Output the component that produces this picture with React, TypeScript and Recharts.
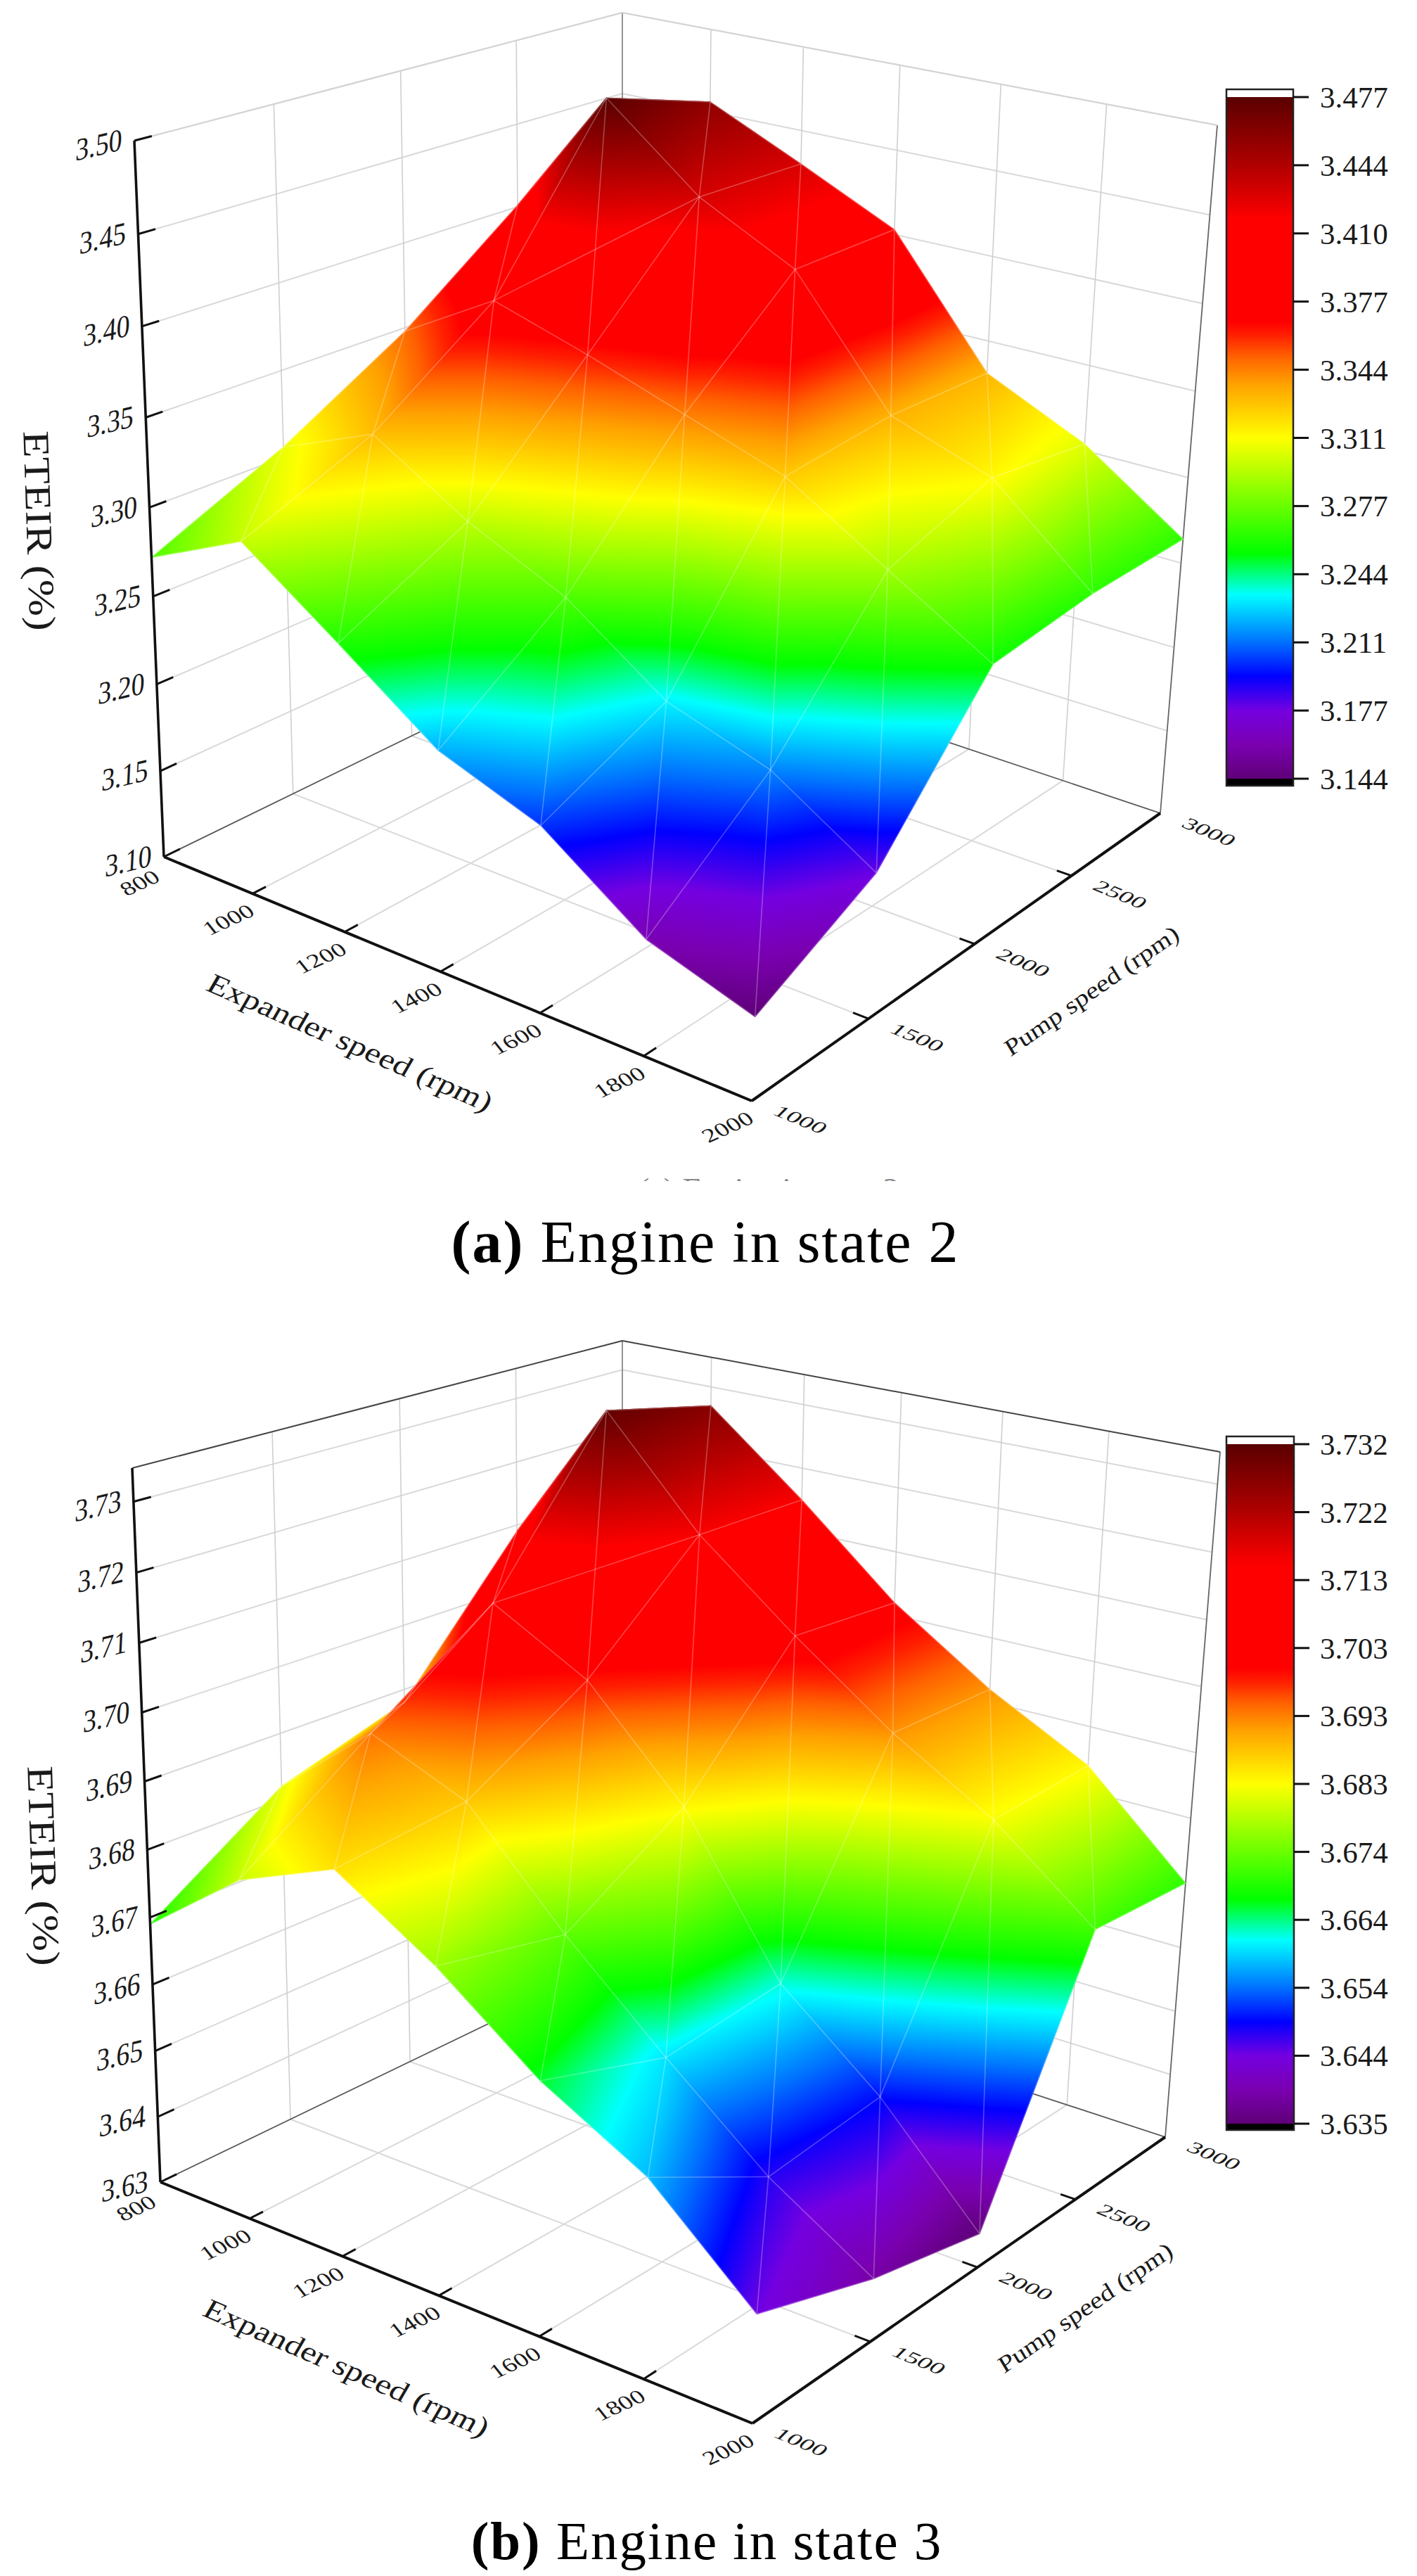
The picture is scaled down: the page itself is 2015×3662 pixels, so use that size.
import React from "react";
import { ScatterChart, Scatter, XAxis, YAxis } from "recharts";

const expanderSpeeds = [800, 1000, 1200, 1400, 1600, 1800, 2000];
const pumpSpeeds = [1000, 1500, 2000, 2500, 3000];

// one row per pump speed, one value per expander speed
const etirState2 = [
  [3.272, 3.298, 3.26, 3.221, 3.201, 3.162, 3.144],
  [3.306, 3.329, 3.296, 3.271, 3.232, 3.214, 3.179],
  [3.348, 3.38, 3.363, 3.344, 3.325, 3.29, 3.256],
  [3.401, 3.477, 3.431, 3.402, 3.332, 3.312, 3.263],
  [3.42, 3.456, 3.43, 3.403, 3.331, 3.304, 3.264],
];
const etirState3 = [
  [3.669, 3.68, 3.686, 3.677, 3.666, 3.658, 3.645],
  [3.682, 3.694, 3.688, 3.673, 3.66, 3.648, 3.639],
  [3.688, 3.707, 3.699, 3.684, 3.662, 3.65, 3.635],
  [3.709, 3.731, 3.715, 3.703, 3.692, 3.683, 3.671],
  [3.713, 3.727, 3.715, 3.702, 3.692, 3.684, 3.67],
];

const zTicksState2 = ["3.10", "3.15", "3.20", "3.25", "3.30", "3.35", "3.40", "3.45", "3.50"];
const zTicksState3 = ["3.63", "3.64", "3.65", "3.66", "3.67", "3.68", "3.69", "3.70", "3.71", "3.72", "3.73"];
const barTicksState2 = ["3.144", "3.177", "3.211", "3.244", "3.277", "3.311", "3.344", "3.377", "3.410", "3.444", "3.477"];
const barTicksState3 = ["3.635", "3.644", "3.654", "3.664", "3.674", "3.683", "3.693", "3.703", "3.713", "3.722", "3.732"];

// colour map of the surface and of the colour bar, 0 = lowest level, 1 = highest
const colorStops: [number, string][] = [
  [0, "#5f0078"],
  [0.05, "#7a00b0"],
  [0.1, "#7400e0"],
  [0.15, "#0000ff"],
  [0.2, "#0070ff"],
  [0.27, "#00ffff"],
  [0.33, "#00ff00"],
  [0.5, "#ffff00"],
  [0.58, "#ffa000"],
  [0.62, "#ff6000"],
  [0.65, "#ff2000"],
  [0.67, "#ff0000"],
  [0.82, "#ff0000"],
  [0.9, "#b00000"],
  [1, "#5a0000"],
];

const FONT = "'Liberation Serif', serif";

// page pixels of the plot box corners, order: (800,1000) (2000,1000) (2000,3000) (800,3000)
const panelState2 = {
  id: "s2",
  top: 0,
  height: 1700,
  etir: etirState2,
  zTicks: zTicksState2,
  barTicks: barTicksState2,
  zRange: [3.1, 3.5],
  floor: [[233, 1218], [1069, 1565], [1650, 1156], [885, 900]],
  roof: [[191, 200], [1114, 430], [1731, 178], [885, 18]],
  roofColor: "#d4d4d4",
  zTitle: [38, 755],
  pumpTitleShift: [0, 0],
  bar: { x: 1744, width: 95, outerTop: 127, tickTop: 138, tickBottom: 1107, outerBottom: 1117 },
};

const panelState3 = {
  id: "s3",
  top: 1860,
  height: 1700,
  etir: etirState3,
  zTicks: zTicksState3,
  barTicks: barTicksState3,
  zRange: [3.63, 3.7347],
  floor: [[228, 3102], [1070, 3445], [1657, 3038], [885, 2785]],
  roof: [[188, 2087], [1115, 2314], [1735, 2064], [885, 1906]],
  roofColor: "#444444",
  zTitle: [44, 2653],
  pumpTitleShift: [-16, -10],
  bar: { x: 1744, width: 96, outerTop: 2042, tickTop: 2053, tickBottom: 3019, outerBottom: 3028 },
};

type Pt = [number, number];

const homography = (q: number[][]) => {
  const [[x0, y0], [x1, y1], [x2, y2], [x3, y3]] = q;
  const dx1 = x1 - x2, dx2 = x3 - x2, sx = x0 - x1 + x2 - x3;
  const dy1 = y1 - y2, dy2 = y3 - y2, sy = y0 - y1 + y2 - y3;
  const den = dx1 * dy2 - dx2 * dy1;
  const g = (sx * dy2 - dx2 * sy) / den;
  const h = (dx1 * sy - sx * dy1) / den;
  const a = x1 - x0 + g * x1, b = x3 - x0 + h * x3;
  const d = y1 - y0 + g * y1, e = y3 - y0 + h * y3;
  return (u: number, v: number): Pt => {
    const w = g * u + h * v + 1;
    return [(a * u + b * v + x0) / w, (d * u + e * v + y0) / w];
  };
};

const buildPanel = (panel: typeof panelState2) => {
  const floorAt = homography(panel.floor);
  const roofAt = homography(panel.roof);
  const uOf = (rpm: number) => (rpm - 800) / 1200;
  const vOf = (rpm: number) => (rpm - 1000) / 2000;
  const [zMin, zMax] = panel.zRange;
  // height on screen grows a little towards the top of the box
  const lift = (w: number) => w / (1.05 - 0.05 * w);
  const project = (u: number, v: number, z: number): Pt => {
    const t = lift((z - zMin) / (zMax - zMin));
    const a = floorAt(u, v), b = roofAt(u, v);
    return [a[0] + (b[0] - a[0]) * t, a[1] + (b[1] - a[1]) * t];
  };
  const seg = (p: Pt, q: Pt, stroke: string, width: number) => ({
    x: p[0], y: p[1], dx: q[0] - p[0], dy: q[1] - p[1], stroke, width,
  });

  const levels = panel.barTicks.map(Number);
  const lo = levels[0], hi = levels[levels.length - 1];
  const node = (i: number, j: number) => {
    const z = panel.etir[j][i];
    const p = project(uOf(expanderSpeeds[i]), vOf(pumpSpeeds[j]), z);
    return { p, t: (z - lo) / (hi - lo) };
  };

  // surface, back cells first
  const triangles: any[] = [];
  const cells: [number, number][] = [];
  expanderSpeeds.slice(0, -1).forEach((_, i) => pumpSpeeds.slice(1).forEach((_, k) => cells.push([i, k + 1])));
  cells.sort((a, b) => a[0] - a[1] - (b[0] - b[1]));
  cells.forEach(([i, j]) => {
    [
      [node(i, j), node(i, j - 1), node(i + 1, j - 1)],
      [node(i, j), node(i + 1, j - 1), node(i + 1, j)],
    ].forEach((tri) => {
      const [a, b, c] = tri;
      const cx = (a.p[0] + b.p[0] + c.p[0]) / 3, cy = (a.p[1] + b.p[1] + c.p[1]) / 3;
      const x1 = b.p[0] - a.p[0], y1 = b.p[1] - a.p[1], t1 = b.t - a.t;
      const x2 = c.p[0] - a.p[0], y2 = c.p[1] - a.p[1], t2 = c.t - a.t;
      const det = x1 * y2 - x2 * y1;
      const gx = (t1 * y2 - t2 * y1) / det, gy = (x1 * t2 - x2 * t1) / det;
      const n = gx * gx + gy * gy || 1;
      triangles.push({
        x: cx, y: cy,
        id: `${panel.id}-${triangles.length}`,
        corners: tri.map((q) => [q.p[0] - cx, q.p[1] - cy]),
        from: [a.p[0] - cx - (a.t * gx) / n, a.p[1] - cy - (a.t * gy) / n],
        to: [a.p[0] - cx + ((1 - a.t) * gx) / n, a.p[1] - cy + ((1 - a.t) * gy) / n],
      });
    });
  });

  // mesh drawn over the surface, the hidden back corner is left out
  const mesh: any[] = [];
  const meshColor = "rgba(255,255,255,0.27)";
  expanderSpeeds.forEach((_, i) =>
    pumpSpeeds.forEach((_, j) => {
      if (i === 0 && j === 4) return;
      const here = node(i, j).p;
      if (i < 6) mesh.push(seg(here, node(i + 1, j).p, meshColor, 1.6));
      if (j < 4 && !(i === 0 && j === 3)) mesh.push(seg(here, node(i, j + 1).p, meshColor, 1.6));
      if (i < 6 && j > 0) mesh.push(seg(here, node(i + 1, j - 1).p, meshColor, 1.6));
    })
  );
  mesh.push(seg(node(1, 2).p, node(2, 3).p, meshColor, 1.6));

  // box: walls, floor and edges
  const grid = "#d9d9d9";
  const box: any[] = [];
  const zValues = panel.zTicks.map(Number);
  zValues.forEach((z) => {
    box.push(seg(project(0, 0, z), project(0, 1, z), grid, 2));
    box.push(seg(project(0, 1, z), project(1, 1, z), grid, 2));
  });
  expanderSpeeds.slice(1, -1).forEach((rpm) => {
    const u = uOf(rpm);
    box.push(seg(floorAt(u, 0), floorAt(u, 1), grid, 2));
    box.push(seg(floorAt(u, 1), roofAt(u, 1), "#cfcfcf", 1.6));
  });
  pumpSpeeds.slice(1, -1).forEach((rpm) => {
    const v = vOf(rpm);
    box.push(seg(floorAt(0, v), floorAt(1, v), grid, 2));
    box.push(seg(floorAt(0, v), roofAt(0, v), "#cfcfcf", 1.6));
  });
  box.push(seg(floorAt(0, 0), floorAt(0, 1), "#555555", 1.6));
  box.push(seg(floorAt(0, 1), floorAt(1, 1), "#555555", 1.6));
  box.push(seg(floorAt(0, 1), roofAt(0, 1), "#888888", 1.8));
  box.push(seg(floorAt(1, 1), roofAt(1, 1), "#666666", 1.8));
  box.push(seg(roofAt(0, 0), roofAt(0, 1), panel.roofColor, 2));
  box.push(seg(roofAt(0, 1), roofAt(1, 1), panel.roofColor, 2));

  // axes, ticks and their labels
  const ink = "#111111";
  const axes: any[] = [
    seg(floorAt(0, 0), roofAt(0, 0), ink, 3.6),
    seg(floorAt(0, 0), floorAt(1, 0), ink, 4),
    seg(floorAt(1, 0), floorAt(1, 1), ink, 4),
  ];
  const labels: any[] = [];
  zValues.forEach((z, k) => {
    const p = project(0, 0, z);
    axes.push(seg(p, project(0, 0.03, z), ink, 3));
    labels.push({ x: p[0] - 18, y: p[1] + 13, text: panel.zTicks[k], size: 45, anchor: "end", m: [0.84, -0.2, -0.05, 1] });
  });
  expanderSpeeds.forEach((rpm) => {
    const p = floorAt(uOf(rpm), 0);
    if (rpm > 800 && rpm < 2000) axes.push(seg(p, floorAt(uOf(rpm), 0.025), ink, 3));
    labels.push({ x: p[0] - 28, y: p[1] + 45, text: String(rpm), size: 38, anchor: "middle", m: [0.88, -0.4, 0.5, 0.62] });
  });
  pumpSpeeds.forEach((rpm) => {
    const p = floorAt(1, vOf(rpm));
    if (rpm > 1000 && rpm < 3000) axes.push(seg(p, floorAt(0.976, vOf(rpm)), ink, 3));
    labels.push({ x: p[0] + 63, y: p[1] + 33, text: String(rpm), size: 38, anchor: "middle", m: [0.92, 0.38, -0.5, 0.5] });
  });
  const base = panel.floor;
  const shift = panel.pumpTitleShift;
  labels.push({ x: base[0][0] + 258, y: base[0][1] + 276, text: "Expander speed (rpm)", size: 49, anchor: "middle", m: [0.92, 0.4, -0.42, 0.72] });
  labels.push({ x: base[2][0] - 92 + shift[0], y: base[2][1] + 262 + shift[1], text: "Pump speed (rpm)", size: 41, anchor: "middle", m: [0.8, -0.56, 0.42, 0.7] });
  labels.push({ x: panel.zTitle[0], y: panel.zTitle[1], text: "ETEIR (%)", size: 53, anchor: "middle", m: [0.04, 1.17, -1, 0.03] });

  // colour bar
  const bar = panel.bar;
  const barMarks = [{ x: bar.x, y: bar.outerTop, ...bar }];
  const barTicks: any[] = [];
  const step = (bar.tickBottom - bar.tickTop) / (panel.barTicks.length - 1);
  panel.barTicks.forEach((text, k) => {
    const y = bar.tickBottom - k * step;
    barTicks.push(seg([bar.x + bar.width, y], [bar.x + bar.width + 22, y], ink, 3));
    labels.push({ x: bar.x + 133, y: y + 15, text, size: 43, anchor: "start", m: [1, 0, 0, 1] });
  });

  return { triangles, mesh, box, axes, labels, barMarks, barTicks };
};

const SegmentShape = (props: any) => {
  const { cx, cy, payload: s } = props;
  return <line x1={cx} y1={cy} x2={cx + s.dx} y2={cy + s.dy} stroke={s.stroke} strokeWidth={s.width} />;
};

const TriangleShape = (props: any) => {
  const { cx, cy, payload: t } = props;
  const gradId = `grad-${t.id}`;
  const pts = t.corners.map((c: number[]) => `${cx + c[0]},${cy + c[1]}`).join(" ");
  return (
    <g>
      <defs>
        <linearGradient
          id={gradId}
          gradientUnits="userSpaceOnUse"
          x1={cx + t.from[0]}
          y1={cy + t.from[1]}
          x2={cx + t.to[0]}
          y2={cy + t.to[1]}
        >
          {colorStops.map(([o, c]) => (
            <stop key={o} offset={o} stopColor={c} />
          ))}
        </linearGradient>
      </defs>
      <polygon points={pts} fill={`url(#${gradId})`} stroke={`url(#${gradId})`} strokeWidth={1.2} strokeLinejoin="round" />
    </g>
  );
};

const LabelShape = (props: any) => {
  const { cx, cy, payload: l } = props;
  return (
    <text
      transform={`matrix(${l.m.join(" ")} ${cx} ${cy})`}
      fontFamily={FONT}
      fontSize={l.size}
      textAnchor={l.anchor}
      fill="#1a1a1a"
    >
      {l.text}
    </text>
  );
};

const BarShape = (props: any) => {
  const { cx, cy, payload: b } = props;
  const gradId = `bar-${b.outerTop}`;
  return (
    <g>
      <defs>
        <linearGradient id={gradId} x1="0" y1="1" x2="0" y2="0">
          {colorStops.map(([o, c]) => (
            <stop key={o} offset={o} stopColor={c} />
          ))}
        </linearGradient>
      </defs>
      <rect x={cx} y={cy} width={b.width} height={b.outerBottom - b.outerTop} fill="#ffffff" />
      <rect x={cx} y={cy + b.tickTop - b.outerTop} width={b.width} height={b.tickBottom - b.tickTop} fill={`url(#${gradId})`} />
      <rect x={cx} y={cy + b.tickBottom - b.outerTop} width={b.width} height={b.outerBottom - b.tickBottom} fill="#000000" />
      <rect x={cx} y={cy} width={b.width} height={b.outerBottom - b.outerTop} fill="none" stroke="#222222" strokeWidth={2.5} />
    </g>
  );
};

const SurfacePanel = ({ panel }: { panel: typeof panelState2 }) => {
  const d = buildPanel(panel);
  return (
    <div style={{ position: "absolute", left: 0, top: panel.top }}>
      <ScatterChart width={2015} height={panel.height} margin={{ top: 0, right: 0, bottom: 0, left: 0 }}>
        <XAxis type="number" dataKey="x" domain={[0, 2015]} hide />
        <YAxis type="number" dataKey="y" domain={[panel.top, panel.top + panel.height]} reversed hide />
        <Scatter data={d.box} shape={SegmentShape} isAnimationActive={false} />
        <Scatter data={d.triangles} shape={TriangleShape} isAnimationActive={false} />
        <Scatter data={d.mesh} shape={SegmentShape} isAnimationActive={false} />
        <Scatter data={d.axes} shape={SegmentShape} isAnimationActive={false} />
        <Scatter data={d.barMarks} shape={BarShape} isAnimationActive={false} />
        <Scatter data={d.barTicks} shape={SegmentShape} isAnimationActive={false} />
        <Scatter data={d.labels} shape={LabelShape} isAnimationActive={false} />
      </ScatterChart>
    </div>
  );
};

const Caption = ({ top, width, size, tag, text }: { top: number; width: number; size: number; tag: string; text: string }) => (
  <div
    style={{
      position: "absolute",
      left: 0,
      top,
      width,
      textAlign: "center",
      fontFamily: FONT,
      fontSize: size,
      letterSpacing: 2,
      lineHeight: 1,
      color: "#000",
      whiteSpace: "pre",
    }}
  >
    <b>{tag}</b> {text}
  </div>
);

export default function App() {
  return (
    <div style={{ position: "absolute", left: 0, top: 0, width: 2015, height: 3662, background: "#fff", overflow: "hidden" }}>
      <SurfacePanel panel={panelState2} />
      <div
        style={{
          position: "absolute",
          left: 908,
          top: 1669,
          height: 10,
          overflow: "hidden",
          fontFamily: FONT,
          fontSize: 46,
          lineHeight: "46px",
          color: "#888",
          whiteSpace: "pre",
        }}
      >
        (a) Engine in state 2
      </div>
      <Caption top={1724} width={2006} size={84} tag="(a)" text="Engine in state 2" />
      <SurfacePanel panel={panelState3} />
      <Caption top={3574} width={2010} size={77} tag="(b)" text="Engine in state 3" />
    </div>
  );
}
